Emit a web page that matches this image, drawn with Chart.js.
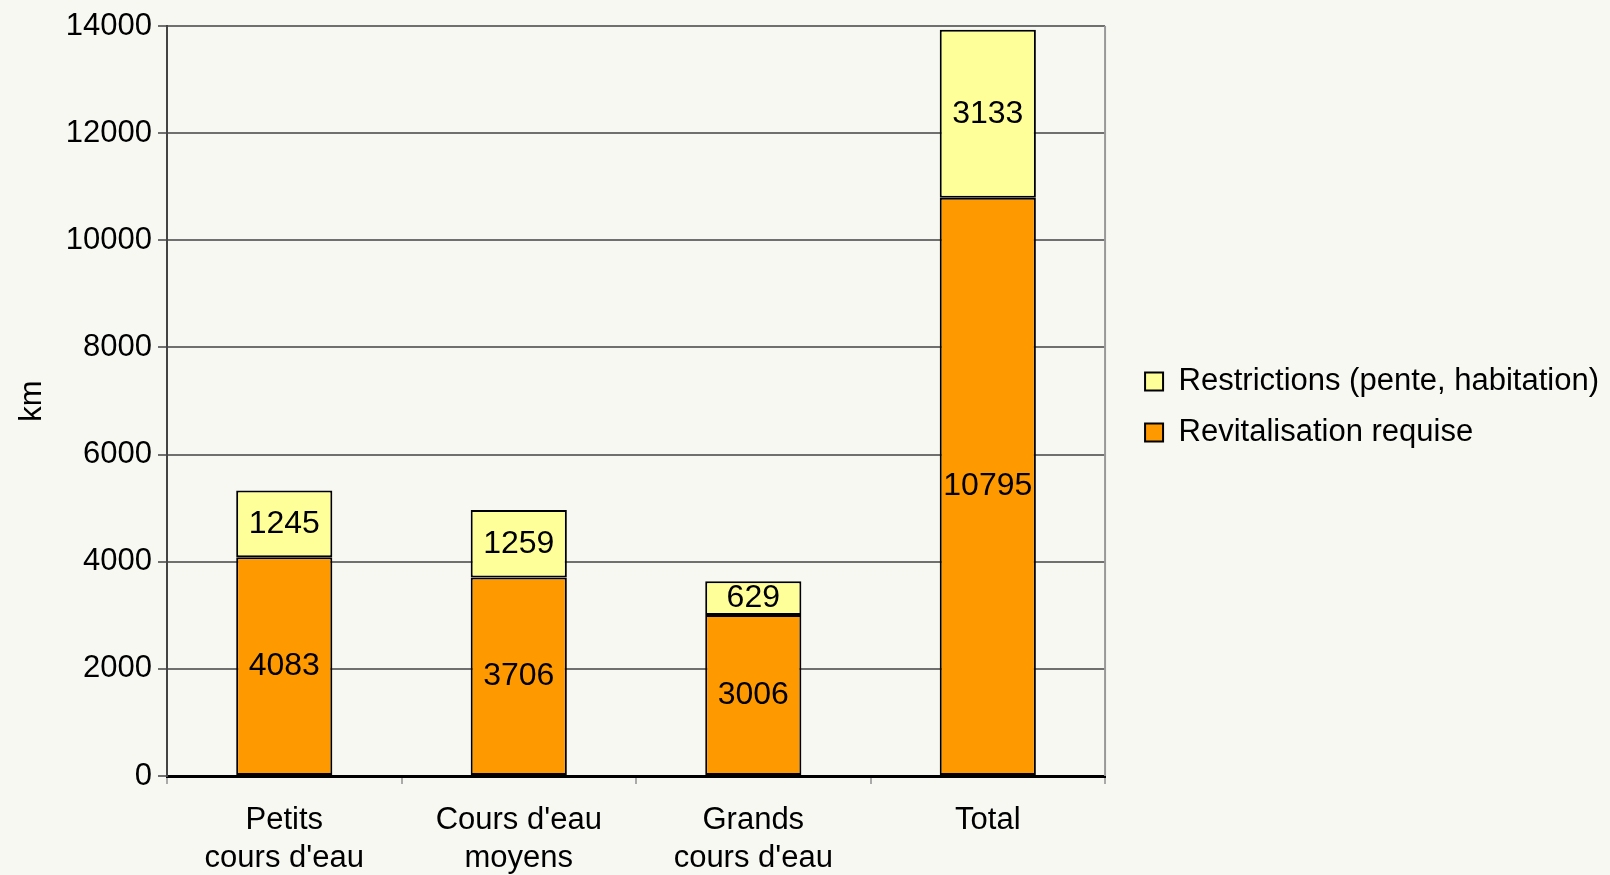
<!DOCTYPE html>
<html>
<head>
<meta charset="utf-8">
<script src="https://cdn.jsdelivr.net/npm/chart.js@4/dist/chart.umd.min.js"></script>
<style>
  html, body { margin: 0; padding: 0; background: #f8f8f3; }
  canvas { display: block; }
</style>
</head>
<body>
<canvas id="chart" width="1610" height="875"></canvas>
<script>
// Data
const categories = [['Petits', "cours d'eau"], ["Cours d'eau", 'moyens'], ['Grands', "cours d'eau"], ['Total']];
const revitalisation = [4083, 3706, 3006, 10795];
const restrictions = [1245, 1259, 629, 3133];
const yTicks = [0, 2000, 4000, 6000, 8000, 10000, 12000, 14000];

const FONT = "'Liberation Sans', Arial, sans-serif";
const FS = 31;

// Background, right frame line, legend placement
const framePlugin = {
  id: 'frame',
  afterLayout(chart) {
    // legend sits beside the plot area only, a little further right
    const lg = chart.legend;
    lg.left += 20;
    lg.right += 20;
    lg.top = chart.chartArea.top + 6;
    lg.bottom = chart.chartArea.bottom + 6;
    lg.height = lg.bottom - lg.top;
  },
  beforeDraw(chart) {
    const c = chart.ctx;
    c.save();
    c.fillStyle = '#f8f8f3';
    c.fillRect(0, 0, chart.width, chart.height);
    c.restore();
  },
  afterDraw(chart) {
    const a = chart.chartArea;
    const c = chart.ctx;
    c.save();
    c.strokeStyle = '#999';
    c.lineWidth = 2;
    c.beginPath();
    c.moveTo(a.right, a.top);
    c.lineTo(a.right, a.bottom);
    c.stroke();
    c.restore();
  }
};

// Values centred inside each bar segment
const valueLabels = {
  id: 'valueLabels',
  afterDatasetsDraw(chart) {
    const c = chart.ctx;
    c.save();
    c.font = '32px ' + FONT;
    c.fillStyle = '#000';
    c.textAlign = 'center';
    c.textBaseline = 'middle';
    chart.data.datasets.forEach((ds, i) => {
      const meta = chart.getDatasetMeta(i);
      meta.data.forEach((bar, j) => {
        const mid = (bar.y + bar.base) / 2;
        c.fillText(ds.data[j], bar.x, mid);
      });
    });
    c.restore();
  }
};

new Chart(document.getElementById('chart'), {
  type: 'bar',
  data: {
    labels: categories,
    datasets: [
      {
        label: 'Revitalisation requise',
        data: revitalisation,
        backgroundColor: '#ff9900',
        borderColor: '#000',
        borderWidth: 2,
        borderSkipped: false,
        categoryPercentage: 1,
        barPercentage: 0.41
      },
      {
        label: 'Restrictions (pente, habitation)',
        data: restrictions,
        backgroundColor: '#ffff99',
        borderColor: '#000',
        borderWidth: 2,
        borderSkipped: false,
        categoryPercentage: 1,
        barPercentage: 0.41
      }
    ]
  },
  options: {
    responsive: false,
    devicePixelRatio: 1,
    animation: false,
    layout: { padding: { top: 26, left: 14, right: 21, bottom: 0 } },
    plugins: {
      tooltip: { enabled: false },
      legend: {
        position: 'right',
        reverse: true,
        maxWidth: 505,
        labels: {
          boxWidth: 18,
          boxHeight: 18,
          padding: 20,
          color: '#000',
          font: { family: FONT, size: FS }
        }
      }
    },
    scales: {
      x: {
        stacked: true,
        grid: { drawOnChartArea: false, offset: true, tickLength: 8, color: '#aaa', lineWidth: 2 },
        border: { color: '#000', width: 3 },
        ticks: { color: '#000', padding: 18, font: { family: FONT, size: FS, lineHeight: 1.22 } },
        afterFit(scale) { scale.height = 99; }
      },
      y: {
        stacked: true,
        min: 0,
        max: 14000,
        afterBuildTicks(scale) { scale.ticks = yTicks.map(v => ({ value: v })); },
        grid: { color: '#707070', lineWidth: 2, tickLength: 9 },
        border: { color: '#444', width: 2 },
        ticks: { color: '#000', padding: 6, font: { family: FONT, size: FS }, callback: v => String(v) },
        title: { display: true, text: 'km', color: '#000', padding: 0, font: { family: FONT, size: 31 } },
        afterFit(scale) { scale.width = 153; }
      }
    }
  },
  plugins: [framePlugin, valueLabels]
});
</script>
</body>
</html>
